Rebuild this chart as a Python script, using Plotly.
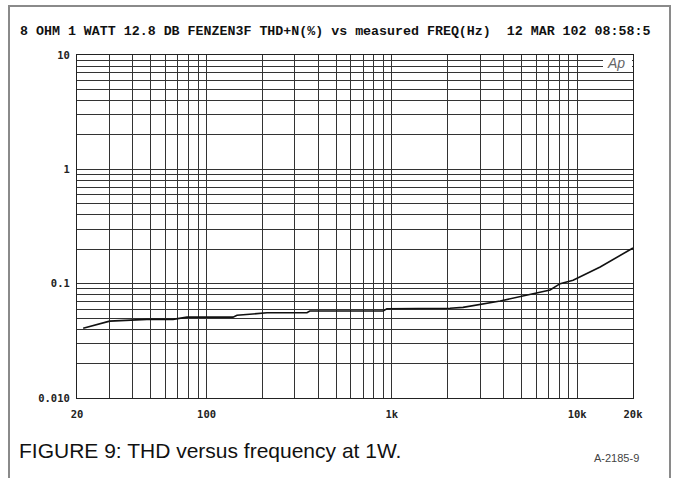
import plotly.graph_objects as go

# Data
freq_hz = [21.6, 30, 47.7, 66, 78.5, 139, 146, 212, 348, 361, 896, 940, 2060, 2420, 3840, 5360, 7140, 8090, 9500, 13300, 20000]
thd_pct = [0.0408, 0.047, 0.0487, 0.0487, 0.051, 0.051, 0.053, 0.0556, 0.0556, 0.0576, 0.0576, 0.0603, 0.061, 0.062, 0.0705, 0.079, 0.088, 0.1, 0.107, 0.14, 0.205]

x_grid = [20, 30, 40, 50, 60, 70, 80, 90, 100, 200, 300, 400, 500, 600, 700, 800, 900,
          1000, 2000, 3000, 4000, 5000, 6000, 7000, 8000, 9000, 10000, 20000]
x_labels = {20: "20", 100: "100", 1000: "1k", 10000: "10k", 20000: "20k"}
y_grid = [m * d for d in (0.01, 0.1, 1) for m in range(1, 10)] + [10]
y_labels = {0.01: "0.010", 0.1: "0.1", 1: "1", 10: "10"}

title_text = "8 OHM 1 WATT 12.8 DB FENZEN3F THD+N(%) vs measured FREQ(Hz)  12 MAR 102 08:58:5"
caption = "FIGURE 9: THD versus frequency at 1W."
code = "A-2185-9"

W, H = 673, 478
L, R, T, B = 77, 40, 55, 80
pw, ph = W - L - R, H - T - B

def px(x):
    return (x - L) / pw

def py(y):
    return (H - B - y) / ph

fig = go.Figure()
fig.add_trace(go.Scatter(x=freq_hz, y=thd_pct, mode="lines",
                         line=dict(color="#111", width=1.6), showlegend=False))

grid_color = "#333"
tick_font = dict(family="DejaVu Sans Mono", size=10.5, color="#222", weight="bold")
fig.update_xaxes(type="log", range=[1.30103, 4.30103],
                 tickvals=x_grid,
                 ticktext=[x_labels.get(v, "") for v in x_grid],
                 showgrid=True, gridcolor=grid_color, gridwidth=1,
                 showline=True, linecolor="#222", linewidth=1.2, mirror=True,
                 ticks="", zeroline=False, ticklabelstandoff=6,
                 tickfont=tick_font)
fig.update_yaxes(type="log", range=[-2, 1],
                 tickvals=y_grid,
                 ticktext=[y_labels.get(round(v, 6), "") for v in y_grid],
                 showgrid=True, gridcolor=grid_color, gridwidth=1,
                 showline=True, linecolor="#222", linewidth=1.2, mirror=True,
                 ticks="", zeroline=False, ticklabelstandoff=4,
                 tickfont=tick_font)

shapes = [
    # outer gray border
    dict(type="rect", xref="paper", yref="paper",
         x0=px(9), x1=px(670), y0=py(490), y1=py(6),
         line=dict(color="#8a8a8a", width=2), fillcolor="rgba(0,0,0,0)", layer="above"),
    # white box behind Ap logo
    dict(type="rect", xref="paper", yref="paper",
         x0=px(603), x1=px(632), y0=py(72), y1=py(56),
         line=dict(width=0), fillcolor="white", layer="above"),
]

annotations = [
    dict(text=title_text, xref="paper", yref="paper", x=px(18), y=py(31),
         xanchor="left", yanchor="middle", showarrow=False,
         font=dict(family="Liberation Mono", size=13.3, color="#111", weight="bold")),
    dict(text="<i>Ap</i>", xref="paper", yref="paper", x=px(616), y=py(63),
         xanchor="center", yanchor="middle", showarrow=False,
         font=dict(family="Liberation Sans", size=14, color="#666")),
    dict(text=caption, xref="paper", yref="paper", x=px(17), y=py(451),
         xanchor="left", yanchor="middle", showarrow=False,
         font=dict(family="Liberation Sans", size=21, color="#111")),
    dict(text=code, xref="paper", yref="paper", x=px(641), y=py(458),
         xanchor="right", yanchor="middle", showarrow=False,
         font=dict(family="Liberation Sans", size=11, color="#444")),
]

fig.update_layout(width=W, height=H, margin=dict(l=L, r=R, t=T, b=B),
                  paper_bgcolor="white", plot_bgcolor="white",
                  shapes=shapes, annotations=annotations, showlegend=False)

fig.write_html("out.html")
